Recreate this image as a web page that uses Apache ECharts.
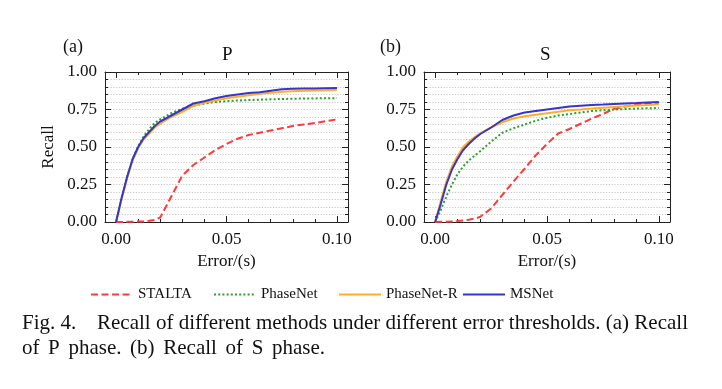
<!DOCTYPE html>
<html><head><meta charset="utf-8">
<script src="https://cdn.jsdelivr.net/npm/echarts@6/dist/echarts.min.js"></script>
<style>html,body{margin:0;padding:0;background:#fff}#c{width:722px;height:389px}</style>
</head><body><div id="c"></div>
<script>
const errors = [0, 0.0025, 0.005, 0.0075, 0.01, 0.0125, 0.015, 0.0175, 0.02, 0.025, 0.03, 0.035, 0.04, 0.045, 0.05, 0.055, 0.06, 0.065, 0.07, 0.075, 0.08, 0.085, 0.09, 0.095, 0.1];
const methods = ['STALTA', 'PhaseNet', 'PhaseNet-R', 'MSNet'];
const xTickLabels = [0, 0.05, 0.1];
// P phase recall
const pSTALTA   = [0, 0.0005, 0.001, 0.002, 0.003, 0.004, 0.008, 0.013, 0.03, 0.17, 0.31, 0.38, 0.43, 0.48, 0.52, 0.555, 0.58, 0.595, 0.61, 0.625, 0.64, 0.65, 0.66, 0.672, 0.684];
const pPhaseNet = [0, 0.16, 0.30, 0.42, 0.505, 0.57, 0.62, 0.66, 0.685, 0.725, 0.755, 0.775, 0.79, 0.80, 0.805, 0.81, 0.813, 0.816, 0.818, 0.82, 0.822, 0.823, 0.824, 0.825, 0.826];
const pPhaseNetR= [0, 0.15, 0.29, 0.41, 0.49, 0.55, 0.59, 0.63, 0.655, 0.70, 0.735, 0.775, 0.795, 0.81, 0.825, 0.835, 0.845, 0.855, 0.862, 0.868, 0.872, 0.875, 0.877, 0.878, 0.88];
const pMSNet    = [0, 0.16, 0.30, 0.42, 0.50, 0.56, 0.60, 0.64, 0.67, 0.71, 0.75, 0.79, 0.805, 0.825, 0.84, 0.85, 0.86, 0.865, 0.875, 0.885, 0.888, 0.89, 0.89, 0.892, 0.893];
// S phase recall
const sSTALTA   = [0, 0.001, 0.002, 0.004, 0.006, 0.01, 0.015, 0.022, 0.033, 0.09, 0.18, 0.27, 0.355, 0.445, 0.52, 0.59, 0.62, 0.655, 0.69, 0.72, 0.755, 0.77, 0.785, 0.79, 0.793];
const sPhaseNet = [0, 0.08, 0.17, 0.25, 0.32, 0.37, 0.41, 0.44, 0.47, 0.535, 0.595, 0.625, 0.65, 0.675, 0.695, 0.71, 0.72, 0.73, 0.74, 0.745, 0.75, 0.753, 0.756, 0.758, 0.76];
const sPhaseNetR= [0, 0.14, 0.27, 0.37, 0.44, 0.50, 0.535, 0.565, 0.59, 0.63, 0.665, 0.69, 0.705, 0.715, 0.725, 0.735, 0.745, 0.75, 0.757, 0.762, 0.767, 0.772, 0.776, 0.78, 0.785];
const sMSNet    = [0, 0.12, 0.25, 0.35, 0.42, 0.48, 0.52, 0.555, 0.585, 0.63, 0.68, 0.71, 0.73, 0.74, 0.75, 0.76, 0.77, 0.775, 0.78, 0.783, 0.787, 0.79, 0.793, 0.797, 0.80];

const captionLine1Head = 'Fig. 4.';
const captionLine1 = ['Recall', 'of', 'different', 'methods', 'under', 'different', 'error', 'thresholds.', '(a)', 'Recall'];
const captionLine2 = ['of', 'P', 'phase.', '(b)', 'Recall', 'of', 'S', 'phase.'];

const FONT = '"Liberation Serif", "DejaVu Serif", serif';
const colors = {'STALTA': '#ff3a3a', 'PhaseNet': '#2ca02c', 'PhaseNet-R': '#ffad2a', 'MSNet': '#3636c8'};
const lineTypes = {'STALTA': [7, 3.5], 'PhaseNet': [2, 2.2], 'PhaseNet-R': 'solid', 'MSNet': 'solid'};
const minorTicks = [0, 0.01, 0.02, 0.03, 0.04, 0.05, 0.06, 0.07, 0.08, 0.09, 0.1];

const grids = [
  {left: 105, top: 72, width: 243, height: 150},
  {left: 424, top: 72, width: 246, height: 150}
];
const xAxes = [], yAxes = [], series = [];
const tickColor = '#222';
grids.forEach((g, gi) => {
  xAxes.push({type: 'value', gridIndex: gi, min: -0.005, max: 0.105, position: 'bottom',
    name: 'Error/(s)', nameLocation: 'middle', nameGap: 31,
    nameTextStyle: {fontFamily: FONT, fontSize: 17, color: '#111'},
    axisLine: {show: true, onZero: false, lineStyle: {color: tickColor, width: 1}},
    axisTick: {show: true, inside: true, length: 6, customValues: xTickLabels, lineStyle: {color: tickColor}},
    axisLabel: {show: true, customValues: xTickLabels, margin: 9, fontFamily: FONT, fontSize: 17, color: '#111',
      formatter: v => v.toFixed(2)},
    splitLine: {show: false}});
  xAxes.push({type: 'value', gridIndex: gi, min: -0.005, max: 0.105, position: 'bottom',
    axisLine: {show: false, onZero: false},
    axisTick: {show: true, inside: true, length: 3, customValues: minorTicks, lineStyle: {color: tickColor}},
    axisLabel: {show: false}, splitLine: {show: false}});
  xAxes.push({type: 'value', gridIndex: gi, min: -0.005, max: 0.105, position: 'top',
    axisLine: {show: true, onZero: false, lineStyle: {color: tickColor, width: 1}},
    axisTick: {show: true, inside: true, length: 6, customValues: xTickLabels, lineStyle: {color: tickColor}},
    axisLabel: {show: false}, splitLine: {show: false}});
  xAxes.push({type: 'value', gridIndex: gi, min: -0.005, max: 0.105, position: 'top',
    axisLine: {show: false, onZero: false},
    axisTick: {show: true, inside: true, length: 3, customValues: minorTicks, lineStyle: {color: tickColor}},
    axisLabel: {show: false}, splitLine: {show: false}});
  yAxes.push({type: 'value', gridIndex: gi, min: 0, max: 1, interval: 0.25, position: 'left',
    name: gi === 0 ? 'Recall' : '', nameLocation: 'middle', nameGap: 48,
    nameTextStyle: {fontFamily: FONT, fontSize: 17, color: '#111'},
    axisLine: {show: true, onZero: false, lineStyle: {color: tickColor, width: 1}},
    axisTick: {show: true, inside: true, length: 6, lineStyle: {color: tickColor}},
    minorTick: {show: true, splitNumber: 5, length: 3, lineStyle: {color: tickColor}},
    axisLabel: {show: true, margin: 8, fontFamily: FONT, fontSize: 17, color: '#111', formatter: v => v.toFixed(2)},
    splitLine: {show: true, lineStyle: {color: '#b8b8b8', type: [1.2, 1.6], width: 0.8}},
    minorSplitLine: {show: true, lineStyle: {color: '#b8b8b8', type: [1.2, 1.6], width: 0.8}}});
  yAxes.push({type: 'value', gridIndex: gi, min: 0, max: 1, interval: 0.25, position: 'right',
    axisLine: {show: true, onZero: false, lineStyle: {color: tickColor, width: 1}},
    axisTick: {show: true, inside: true, length: 6, lineStyle: {color: tickColor}},
    minorTick: {show: true, splitNumber: 5, length: 3, lineStyle: {color: tickColor}},
    axisLabel: {show: false}, splitLine: {show: false}});
});

const dataSets = [
  {'STALTA': pSTALTA, 'PhaseNet': pPhaseNet, 'PhaseNet-R': pPhaseNetR, 'MSNet': pMSNet},
  {'STALTA': sSTALTA, 'PhaseNet': sPhaseNet, 'PhaseNet-R': sPhaseNetR, 'MSNet': sMSNet}
];
dataSets.forEach((ds, gi) => {
  methods.forEach(m => {
    series.push({type: 'line', name: m, xAxisIndex: gi * 4, yAxisIndex: gi * 2,
      data: errors.map((e, i) => [e, ds[m][i]]),
      showSymbol: false, symbol: 'none', smooth: false, animation: false,
      lineStyle: {color: colors[m], width: 2, type: lineTypes[m]},
      itemStyle: {color: colors[m]}, z: m === 'MSNet' ? 5 : 3});
  });
});

// justified caption words (text measured with canvas)
const CAP_FONT = '21px "Liberation Serif"';
const mctx = document.createElement('canvas').getContext('2d');
mctx.font = CAP_FONT;
function justify(words, x0, x1, y) {
  const widths = words.map(w => mctx.measureText(w).width);
  const total = widths.reduce((a, b) => a + b, 0);
  const gap = (x1 - x0 - total) / (words.length - 1);
  let x = x0;
  return words.map((w, i) => {
    const el = {type: 'text', x: x, y: y, style: {text: w, font: CAP_FONT, fill: '#111', verticalAlign: 'middle'}};
    x += widths[i] + gap;
    return el;
  });
}
const graphics = [
  {type: 'text', x: 22, y: 323.5, style: {text: captionLine1Head, font: CAP_FONT, fill: '#111', verticalAlign: 'middle'}}
].concat(justify(captionLine1, 97, 688, 323.5)).concat(justify(captionLine2, 22, 325, 348.5));

const legendPos = [90, 213, 338, 462];
const chart = echarts.init(document.getElementById('c'), null, {renderer: 'canvas'});
chart.setOption({
  backgroundColor: '#fff',
  animation: false,
  title: [
    {text: '(a)', left: 58, top: 33, textStyle: {fontFamily: FONT, fontSize: 18, fontWeight: 'normal', color: '#111'}},
    {text: 'P', left: 217, top: 41, textStyle: {fontFamily: FONT, fontSize: 19, fontWeight: 'normal', color: '#111'}},
    {text: '(b)', left: 375, top: 33, textStyle: {fontFamily: FONT, fontSize: 18, fontWeight: 'normal', color: '#111'}},
    {text: 'S', left: 535, top: 41, textStyle: {fontFamily: FONT, fontSize: 19, fontWeight: 'normal', color: '#111'}}
  ],
  legend: methods.map((m, i) => ({
    data: [m], left: legendPos[i] - 5, top: 282, itemWidth: 42, itemHeight: 14, itemGap: 4,
    itemStyle: {opacity: 0},
    textStyle: {fontFamily: FONT, fontSize: 15, color: '#111'}
  })),
  grid: grids,
  xAxis: xAxes,
  yAxis: yAxes,
  series: series,
  graphic: graphics
});
</script></body></html>
